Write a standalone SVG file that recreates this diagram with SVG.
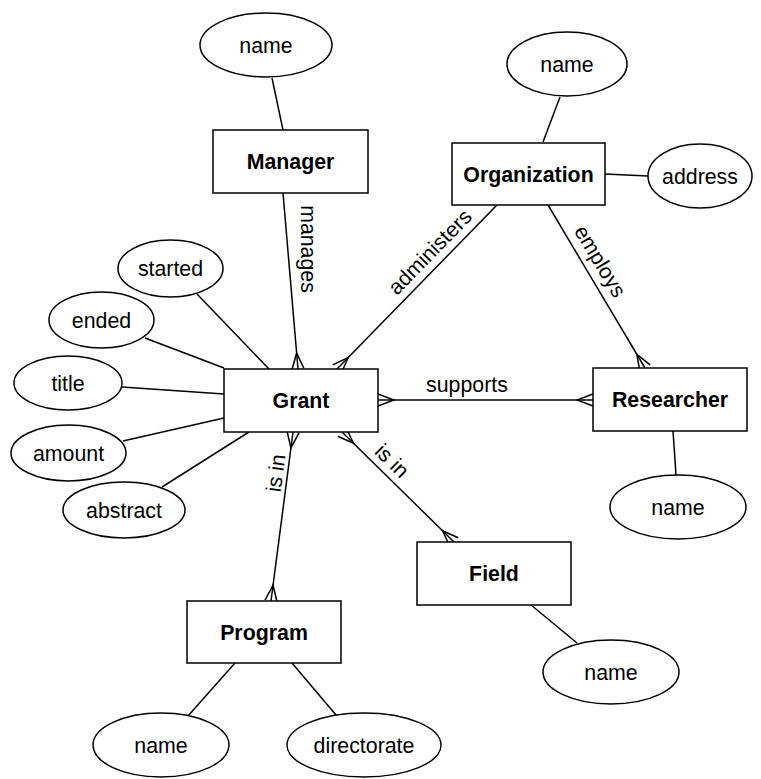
<svg xmlns="http://www.w3.org/2000/svg" width="761" height="779" viewBox="0 0 761 779">
<style>
.ent rect{fill:#fff;stroke:#000;stroke-width:1.5}
.attr ellipse{fill:#fff;stroke:#000;stroke-width:1.5}
.ln{stroke:#000;stroke-width:1.5;fill:none}
text{font-family:"Liberation Sans",Arial,sans-serif;font-size:21.33px;fill:#000}
.b{font-weight:bold}
.c{text-anchor:middle}
</style>
<defs>
<marker id="crow" viewBox="-18 -8 20 16" markerWidth="20" markerHeight="16" refX="0" refY="0" orient="auto-start-reverse" markerUnits="userSpaceOnUse">
<path d="M0,-6 L-16,0 L0,6" fill="none" stroke="#000" stroke-width="1.5"/>
</marker>
</defs>
<rect width="761" height="779" fill="#fff"/>
<g id="connectors">
<line class="ln" x1="272" y1="78" x2="283" y2="130"/>
<line class="ln" x1="543" y1="142" x2="560" y2="97"/>
<line class="ln" x1="605" y1="174" x2="648" y2="176"/>
<line class="ln" x1="673" y1="431" x2="676" y2="475"/>
<line class="ln" x1="531" y1="605" x2="577" y2="643"/>
<line class="ln" x1="235" y1="663" x2="188" y2="716"/>
<line class="ln" x1="292" y1="663" x2="336" y2="715"/>
<line class="ln" x1="197" y1="294" x2="269" y2="369"/>
<line class="ln" x1="145" y1="338" x2="224" y2="368"/>
<line class="ln" x1="122" y1="387" x2="224" y2="394"/>
<line class="ln" x1="123" y1="441" x2="224" y2="418"/>
<line class="ln" x1="162" y1="487" x2="249" y2="432"/>
<line class="ln" x1="283" y1="193" x2="298" y2="369" marker-end="url(#crow)"/>
<line class="ln" x1="497" y1="205" x2="337" y2="369" marker-end="url(#crow)"/>
<line class="ln" x1="548" y1="205" x2="645" y2="368" marker-end="url(#crow)"/>
<line class="ln" x1="378" y1="400" x2="593" y2="400" marker-start="url(#crow)" marker-end="url(#crow)"/>
<line class="ln" x1="293" y1="432" x2="271" y2="601" marker-start="url(#crow)" marker-end="url(#crow)"/>
<line class="ln" x1="342" y1="432" x2="454" y2="542" marker-start="url(#crow)" marker-end="url(#crow)"/>
<text class="c" transform="translate(301,249) rotate(90)">manages</text>
<text class="c" transform="translate(435,257) rotate(-45.7)">administers</text>
<text class="c" transform="translate(594,265) rotate(59.1)">employs</text>
<text class="c" x="467" y="392">supports</text>
<text class="c" transform="translate(283,474) rotate(-82.5)">is in</text>
<text class="c" transform="translate(387,466) rotate(44.5)">is in</text>
</g>
<g id="manager" class="ent"><rect x="213" y="130" width="155" height="63"/><text class="b c" x="290.5" y="169">Manager</text></g>
<g id="organization" class="ent"><rect x="452" y="143" width="153" height="62"/><text class="b c" x="528.5" y="181.5">Organization</text></g>
<g id="grant" class="ent"><rect x="224" y="369" width="154" height="63"/><text class="b c" x="301" y="408">Grant</text></g>
<g id="researcher" class="ent"><rect x="593" y="368" width="154" height="63"/><text class="b c" x="670" y="407">Researcher</text></g>
<g id="field" class="ent"><rect x="417" y="542" width="154" height="63"/><text class="b c" x="494" y="581">Field</text></g>
<g id="program" class="ent"><rect x="187" y="601" width="154" height="62"/><text class="b c" x="264" y="640">Program</text></g>
<g id="manager-name" class="attr"><ellipse cx="266" cy="45" rx="66" ry="32"/><text class="c" x="266" y="52.5">name</text></g>
<g id="organization-name" class="attr"><ellipse cx="567" cy="64" rx="60" ry="32"/><text class="c" x="567" y="71.5">name</text></g>
<g id="organization-address" class="attr"><ellipse cx="700" cy="176" rx="52" ry="32"/><text class="c" x="700" y="183.5">address</text></g>
<g id="researcher-name" class="attr"><ellipse cx="678" cy="507" rx="68" ry="32"/><text class="c" x="678" y="514.5">name</text></g>
<g id="field-name" class="attr"><ellipse cx="611" cy="672" rx="68" ry="32"/><text class="c" x="611" y="679.5">name</text></g>
<g id="program-name" class="attr"><ellipse cx="161" cy="745" rx="68" ry="32"/><text class="c" x="161" y="752.5">name</text></g>
<g id="program-directorate" class="attr"><ellipse cx="364" cy="745" rx="77" ry="32"/><text class="c" x="364" y="752.5">directorate</text></g>
<g id="grant-started" class="attr"><ellipse cx="170.5" cy="268.5" rx="52.5" ry="28.5"/><text class="c" x="170.5" y="276">started</text></g>
<g id="grant-ended" class="attr"><ellipse cx="101.5" cy="320" rx="52.5" ry="28"/><text class="c" x="101.5" y="327.5">ended</text></g>
<g id="grant-title" class="attr"><ellipse cx="68" cy="383" rx="54" ry="27"/><text class="c" x="68" y="390.5">title</text></g>
<g id="grant-amount" class="attr"><ellipse cx="68.5" cy="453" rx="57.5" ry="28"/><text class="c" x="68.5" y="460.5">amount</text></g>
<g id="grant-abstract" class="attr"><ellipse cx="124" cy="510" rx="61" ry="28"/><text class="c" x="124" y="517.5">abstract</text></g>
</svg>
